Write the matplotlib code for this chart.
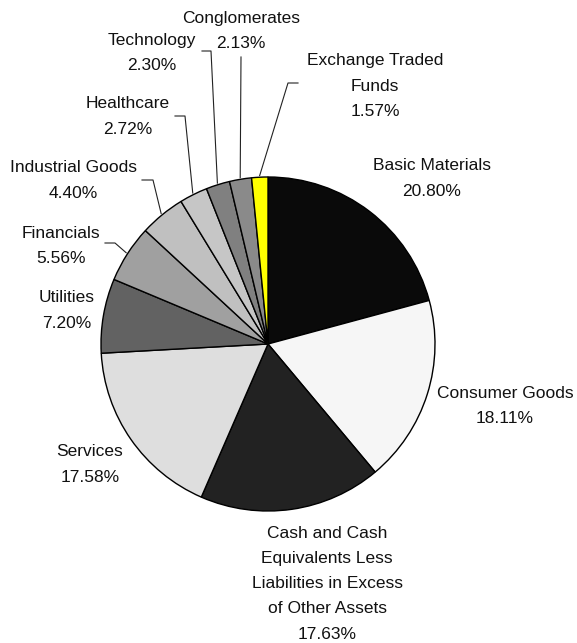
import matplotlib.pyplot as plt
import numpy as np

# sector weights of the portfolio (percent)
sectors = ["Basic Materials", "Consumer Goods",
           "Cash and Cash\nEquivalents Less\nLiabilities in Excess\nof Other Assets",
           "Services", "Utilities", "Financials", "Industrial Goods",
           "Healthcare", "Technology", "Conglomerates",
           "Exchange Traded\nFunds"]
weights = [20.80, 18.11, 17.63, 17.58, 7.20, 5.56, 4.40, 2.72, 2.30, 2.13, 1.57]
colors = ["#0a0a0a", "#f6f6f6", "#222222", "#dedede", "#626262", "#a0a0a0",
          "#c0c0c0", "#c6c6c6", "#808080", "#8a8a8a", "#ffff00"]

W, H = 577, 643
cx, cy, rad = 268, 344, 167   # pie centre / radius in pixels (from top)
line_h = 25.3                 # spacing between label lines

# label blocks: x centre, y of first line centre (pixels from top)
label_pos = [(432, 165), (505, 392), (327, 532), (90, 451), (67, 297),
             (61, 232), (73, 167), (128, 103), (152, 39), (241, 17),
             (375, 60)]
# leader lines: start point and knee (pixels from top), None = no leader
leaders = [None, None, None, None, None,
           ((105, 243), (115, 243)),
           ((142, 180), (153, 180)),
           ((175, 116), (185, 116)),
           ((202, 51), (211, 51)),
           ((241, 57), None),
           ((298, 83), (288, 83))]

fig = plt.figure(figsize=(W / 100, H / 100), dpi=100)
ax = fig.add_axes([0, 0, 1, 1])

wedges, _ = ax.pie(weights, colors=colors, startangle=90, counterclock=False,
                   radius=rad, center=(cx, H - cy),
                   wedgeprops=dict(edgecolor="black", linewidth=1.0))
ax.set_xlim(0, W)
ax.set_ylim(0, H)
ax.axis("off")

for i, name in enumerate(sectors):
    lines = name.split("\n") + ["%.2f%%" % weights[i]]
    x0, y0 = label_pos[i]
    for k, txt in enumerate(lines):
        ax.text(x0, H - (y0 + k * line_h + 5.5), txt, ha="center", va="baseline",
                fontsize=12.5, family="Liberation Sans", color="#111111")

    if leaders[i] is not None:
        w = wedges[i]
        ang = np.deg2rad((w.theta1 + w.theta2) / 2)
        ex = cx + rad * 1.01 * np.cos(ang)
        ey = cy - rad * 1.01 * np.sin(ang)
        start, knee = leaders[i]
        pts = [start] + ([knee] if knee else []) + [(ex, ey)]
        xs = [p[0] for p in pts]
        ys = [H - p[1] for p in pts]
        ax.plot(xs, ys, color="#222222", linewidth=0.8)

plt.savefig("out.png", dpi=100)
plt.close()
